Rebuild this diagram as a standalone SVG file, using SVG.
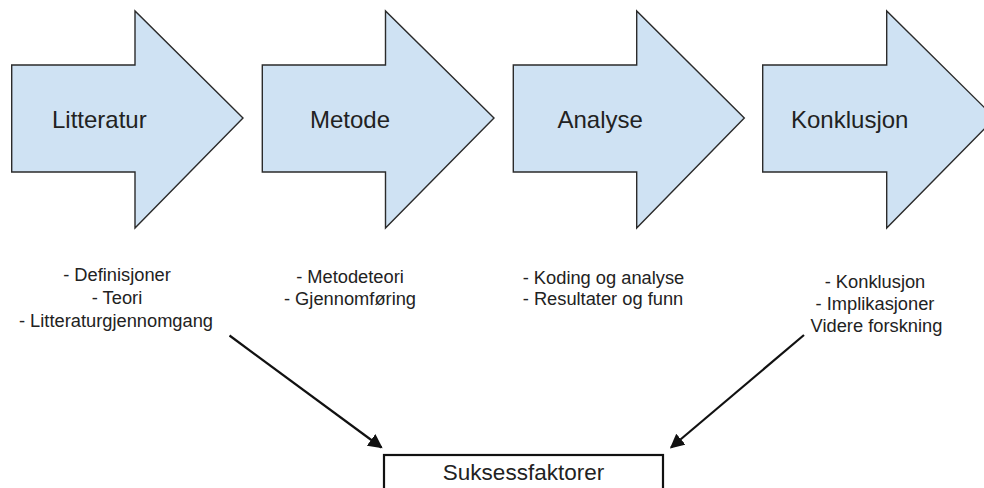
<svg xmlns="http://www.w3.org/2000/svg" width="984" height="488" viewBox="0 0 984 488">
<style>
.step{fill:#cfe2f3;stroke:#2b2b2b;stroke-width:1.4;stroke-linejoin:miter}
.title{font-family:"Liberation Sans",Arial,sans-serif;font-size:24px;fill:#222}
.item{font-family:"Liberation Sans",Arial,sans-serif;font-size:18.3px;fill:#222;text-anchor:middle}
.conn{stroke:#111;stroke-width:2.2;fill:none}
.box{fill:#fff;stroke:#111;stroke-width:2.2}
.boxtext{font-family:"Liberation Sans",Arial,sans-serif;font-size:22.5px;fill:#222;text-anchor:middle}
</style>
<defs>
<marker id="ah" viewBox="0 0 10 10" refX="9" refY="5" markerWidth="6.5" markerHeight="6.5" markerUnits="strokeWidth" orient="auto">
<path d="M0,0 L10,5 L0,10 z" fill="#111"/>
</marker>
</defs>
<rect width="984" height="488" fill="#fff"/>
<g id="litteratur">
<polygon class="step" points="11.7,65 135,65 135,11 243,118 135,228 135,172 11.7,172"/>
<text class="title" x="52" y="128">Litteratur</text>
</g>
<g id="metode">
<polygon class="step" points="262.3,65 385.5,65 385.5,11 494,118 385.5,228 385.5,172 262.3,172"/>
<text class="title" x="310" y="128">Metode</text>
</g>
<g id="analyse">
<polygon class="step" points="513.3,65 636.7,65 636.7,11 744.3,118 636.7,228 636.7,172 513.3,172"/>
<text class="title" x="557.5" y="128">Analyse</text>
</g>
<g id="konklusjon">
<polygon class="step" points="762.7,65 886.7,65 886.7,11 995,118 886.7,228 886.7,172 762.7,172"/>
<text class="title" x="791" y="128">Konklusjon</text>
</g>
<g id="litteratur-items">
<text class="item" x="117" y="281">- Definisjoner</text>
<text class="item" x="117" y="304">- Teori</text>
<text class="item" x="116" y="327">- Litteraturgjennomgang</text>
</g>
<g id="metode-items">
<text class="item" x="350" y="283">- Metodeteori</text>
<text class="item" x="350" y="305">- Gjennomføring</text>
</g>
<g id="analyse-items">
<text class="item" x="603.5" y="284">- Koding og analyse</text>
<text class="item" x="603" y="305">- Resultater og funn</text>
</g>
<g id="konklusjon-items">
<text class="item" x="875" y="288">- Konklusjon</text>
<text class="item" x="875" y="310">- Implikasjoner</text>
<text class="item" x="876.5" y="332">Videre forskning</text>
</g>
<g id="connectors">
<line class="conn" x1="229.5" y1="335.5" x2="381.5" y2="447.5" marker-end="url(#ah)"/>
<line class="conn" x1="804" y1="335" x2="671" y2="447.5" marker-end="url(#ah)"/>
</g>
<g id="suksessfaktorer">
<rect class="box" x="384" y="455" width="279" height="50"/>
<text class="boxtext" x="523.5" y="479.5">Suksessfaktorer</text>
</g>
</svg>
